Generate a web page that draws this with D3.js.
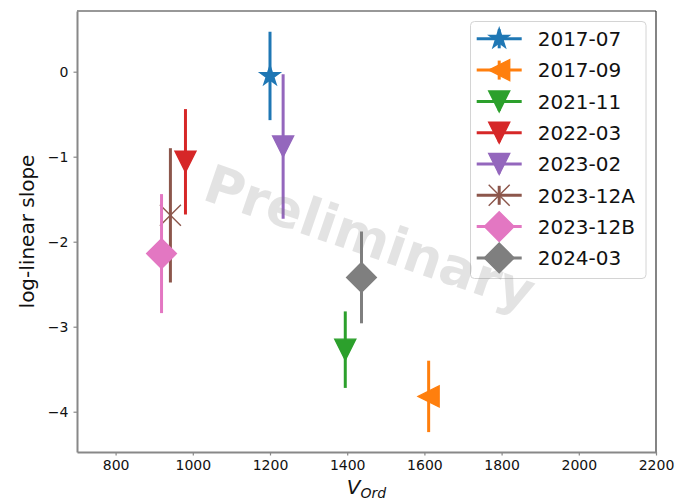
<!DOCTYPE html>
<html>
<head>
<meta charset="utf-8">
<script src="https://cdn.jsdelivr.net/npm/d3@7"></script>
<style>
  html, body { margin: 0; padding: 0; background: #fff; }
  svg { display: block; font-family: "DejaVu Sans", sans-serif; }
</style>
</head>
<body>
<svg id="chart" width="679" height="500"></svg>
<script>
// Observation epochs and their fitted log-linear slopes
const epochs    = ["2017-07", "2017-09", "2021-11", "2022-03", "2023-02", "2023-12A", "2023-12B", "2024-03"];
const vOrd      = [1200, 1611, 1395, 981, 1234, 942, 919, 1437];
const slope     = [-0.05, -3.82, -3.27, -1.06, -0.88, -1.69, -2.14, -2.42];
const slopeErr  = [0.52, 0.42, 0.45, 0.62, 0.85, 0.79, 0.70, 0.54];
const colors    = ["#1f77b4", "#ff7f0e", "#2ca02c", "#d62728", "#9467bd", "#8c564b", "#e377c2", "#7f7f7f"];
const markers   = ["star", "tri-left", "tri-down", "tri-down", "tri-down", "x", "diamond", "diamond"];
const xTicks    = [800, 1000, 1200, 1400, 1600, 1800, 2000, 2200];
const yTicks    = [0, -1, -2, -3, -4];
const xDomain   = [700, 2200];
const yDomain   = [-4.474, 0.714];

const W = 679, H = 500;
const m = { left: 77, right: 656, top: 11, bottom: 452 };
const MS = 21; // marker size, px

const svg = d3.select("#chart");
svg.append("rect").attr("width", W).attr("height", H).attr("fill", "#fff");

const x = d3.scaleLinear().domain(xDomain).range([m.left, m.right]);
const y = d3.scaleLinear().domain(yDomain).range([m.bottom, m.top]);

// Marker shapes, sized like matplotlib markers of the same size
function markerPath(kind, s) {
  const h = s / 2;
  const p = d3.path();
  if (kind === "tri-down") {
    p.moveTo(0, h); p.lineTo(-h, -h); p.lineTo(h, -h); p.closePath();
  } else if (kind === "tri-left") {
    p.moveTo(-h, 0); p.lineTo(h, -h); p.lineTo(h, h); p.closePath();
  } else if (kind === "diamond") {
    const r = s * Math.SQRT1_2;
    p.moveTo(0, -r); p.lineTo(r, 0); p.lineTo(0, r); p.lineTo(-r, 0); p.closePath();
  } else if (kind === "star") {
    for (let i = 0; i < 10; i++) {
      const a = Math.PI / 2 + i * Math.PI / 5;
      const r = (i % 2 === 0 ? 1 : 0.381966) * h;
      const px = r * Math.cos(a), py = -r * Math.sin(a);
      if (i === 0) p.moveTo(px, py); else p.lineTo(px, py);
    }
    p.closePath();
  } else if (kind === "x") {
    p.moveTo(-h, -h); p.lineTo(h, h);
    p.moveTo(-h, h); p.lineTo(h, -h);
  }
  return p.toString();
}

function drawMarker(g, kind, color) {
  if (kind === "x") {
    g.append("path").attr("d", markerPath(kind, MS))
      .attr("fill", "none").attr("stroke", color).attr("stroke-width", 1.4);
  } else {
    g.append("path").attr("d", markerPath(kind, MS))
      .attr("fill", color).attr("stroke", color).attr("stroke-width", 1.4)
      .attr("stroke-linejoin", "miter");
  }
}

// Axes frame: top/right dark, left/bottom grey
const frame = svg.append("g");
frame.append("line").attr("x1", m.left).attr("x2", m.right).attr("y1", m.top).attr("y2", m.top)
  .attr("stroke", "#333").attr("stroke-width", 1.2);
frame.append("line").attr("x1", m.right).attr("x2", m.right).attr("y1", m.top).attr("y2", m.bottom)
  .attr("stroke", "#333").attr("stroke-width", 1.2);

// Axes
const xAxis = svg.append("g").attr("transform", `translate(0,${m.bottom})`)
  .call(d3.axisBottom(x).tickValues(xTicks).tickFormat(d3.format("d")).tickSize(3.5).tickPadding(5).tickSizeOuter(0));
const yAxis = svg.append("g").attr("transform", `translate(${m.left},0)`)
  .call(d3.axisLeft(y).tickValues(yTicks).tickFormat(d3.format("d")).tickSize(3.5).tickPadding(5).tickSizeOuter(0));
[xAxis, yAxis].forEach(a => {
  a.select(".domain").attr("stroke", "#888").attr("stroke-width", 2);
  a.selectAll(".tick line").attr("stroke", "#888").attr("stroke-width", 1.2);
  a.selectAll(".tick text").attr("fill", "#111").attr("font-size", 14).attr("font-family", "DejaVu Sans");
});

// Axis labels
svg.append("text")
  .attr("transform", `translate(34,${(m.top + m.bottom) / 2}) rotate(-90)`)
  .attr("text-anchor", "middle").attr("font-size", 20).attr("fill", "#111")
  .text("log-linear slope");

const xl = svg.append("text")
  .attr("x", (m.left + m.right) / 2).attr("y", 494)
  .attr("text-anchor", "middle").attr("fill", "#111").attr("font-style", "italic");
xl.append("tspan").attr("font-size", 20).text("V");
xl.append("tspan").attr("font-size", 14).attr("dy", 3.5).text("Ord");

// Data: vertical error bars with markers
epochs.forEach((name, i) => {
  const g = svg.append("g");
  g.append("line")
    .attr("x1", x(vOrd[i])).attr("x2", x(vOrd[i]))
    .attr("y1", y(slope[i] + slopeErr[i])).attr("y2", y(slope[i] - slopeErr[i]))
    .attr("stroke", colors[i]).attr("stroke-width", 3);
  const mk = g.append("g").attr("transform", `translate(${x(vOrd[i])},${y(slope[i])})`);
  drawMarker(mk, markers[i], colors[i]);
});

// Legend
const lg = svg.append("g");
const L = { x: 470.5, y: 21.5, w: 175.5, h: 257, row0: 38.8, dy: 31.3 };
lg.append("rect").attr("x", L.x).attr("y", L.y).attr("width", L.w).attr("height", L.h)
  .attr("rx", 4).attr("fill", "#fff").attr("fill-opacity", 0.8)
  .attr("stroke", "#d4d4d4").attr("stroke-width", 1);
epochs.forEach((name, i) => {
  const cy = L.row0 + i * L.dy;
  const row = lg.append("g");
  row.append("line").attr("x1", 476.7).attr("x2", 521.7).attr("y1", cy).attr("y2", cy)
    .attr("stroke", colors[i]).attr("stroke-width", 3);
  row.append("line").attr("x1", 499.2).attr("x2", 499.2).attr("y1", cy - 9.5).attr("y2", cy + 9.5)
    .attr("stroke", colors[i]).attr("stroke-width", 3);
  drawMarker(row.append("g").attr("transform", `translate(499.2,${cy})`), markers[i], colors[i]);
  row.append("text").attr("x", 537.7).attr("y", cy).attr("dy", "0.36em")
    .attr("font-size", 20).attr("fill", "#111").text(name);
});

// Watermark across the plot
svg.append("text")
  .attr("transform", "translate(370,237) rotate(19)")
  .attr("text-anchor", "middle").attr("dy", "0.36em")
  .attr("font-size", 53).attr("font-weight", "bold")
  .attr("fill", "#808080").attr("fill-opacity", 0.22)
  .text("Preliminary");
</script>
</body>
</html>
